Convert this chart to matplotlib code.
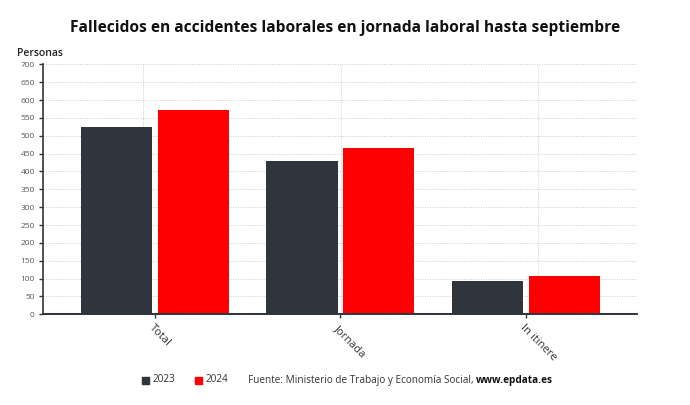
import matplotlib.pyplot as plt
from matplotlib.patches import Rectangle

plt.rcParams['font.family'] = ['Open Sans', 'DejaVu Sans']

categories = ['Total', 'Jornada', 'In itinere']
years = ['2023', '2024']
values_2023 = [524, 430, 93]
values_2024 = [572, 465, 107]
y_ticks = list(range(0, 701, 50))

DARK = '#30353d'
RED = '#ff0000'

fig = plt.figure(figsize=(6.9, 4.05), dpi=100)
ax = fig.add_axes([0.0623, 0.224, 0.861, 0.617])

x = list(range(len(categories)))
w = 0.383
off = 0.207
ax.bar([i - off for i in x], values_2023, width=w, color=DARK, zorder=3)
ax.bar([i + off for i in x], values_2024, width=w, color=RED, zorder=3)

ax.set_xlim(-0.602, 2.598)
ax.set_ylim(0, 700)
ax.set_yticks(y_ticks)
ax.set_yticklabels([str(v) for v in y_ticks], fontsize=6, color='#555555')
ax.set_xticks(x)
ax.set_xticklabels(categories, rotation=-45, ha='left', va='top',
                   rotation_mode='anchor', fontsize=8, color='#333333')
ax.tick_params(axis='x', length=3, width=1, color=DARK, pad=3)
ax.tick_params(axis='y', length=3, width=1, color=DARK, pad=3)

# grid
for v in y_ticks[1:]:
    ax.axhline(v, color='#cccccc', linestyle=(0, (1, 1.5)), linewidth=0.7, zorder=1)
for gx in [-0.065, 1.003, 2.065]:
    ax.axvline(gx, color='#cccccc', linestyle=(0, (1, 1.5)), linewidth=0.7, zorder=1)

for s in ['top', 'right']:
    ax.spines[s].set_visible(False)
ax.spines['left'].set_color(DARK)
ax.spines['left'].set_linewidth(1.2)
ax.spines['bottom'].set_color(DARK)
ax.spines['bottom'].set_linewidth(1.4)
ax.spines['bottom'].set_linestyle((0, (1.5, 0.6)))
ax.spines['bottom'].set_zorder(4)

fig.text(0.5, 0.932, 'Fallecidos en accidentes laborales en jornada laboral hasta septiembre',
         ha='center', va='center', fontsize=11.2, fontweight='bold', color='#111111')
fig.text(0.025, 0.868, 'Personas', ha='left', va='center', fontsize=7.5,
         fontweight='semibold', color='#222222')

# legend / source
ly = 1 - 380 / 405
sq = 7 / 690
for px, col, lab in [(142, DARK, years[0]), (195, RED, years[1])]:
    fig.add_artist(Rectangle((px / 690, ly - 3.5 / 405), sq, 7 / 405,
                             transform=fig.transFigure, color=col))
    fig.text((px + 11) / 690, ly, lab, ha='left', va='center', fontsize=7.2, color='#333333')

src = fig.text(248 / 690, ly, 'Fuente: Ministerio de Trabajo y Economía Social, ',
               ha='left', va='center', fontsize=7.2, color='#333333')
ax.annotate('www.epdata.es', xy=(1, 0.5), xycoords=src, ha='left', va='center',
            fontsize=7.2, fontweight='bold', color='#111111', annotation_clip=False)

fig.savefig('out.png', dpi=100, facecolor='white')
